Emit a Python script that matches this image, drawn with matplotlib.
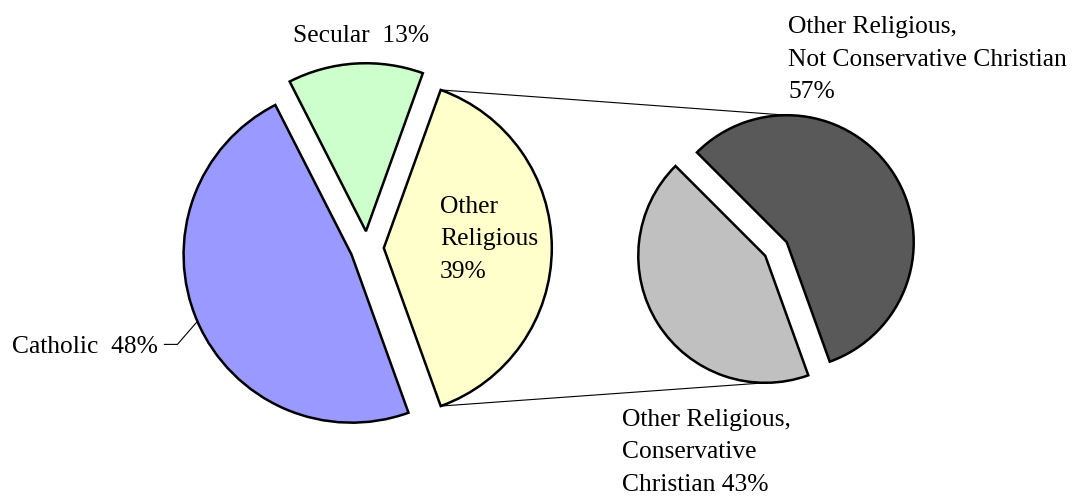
import math
import matplotlib
matplotlib.use("Agg")
import matplotlib.pyplot as plt

# main pie
main_labels = ["Catholic", "Secular", "Other Religious"]
main_values = [48, 13, 39]
main_colors = ["#9999FF", "#CCFFCC", "#FFFFCC"]

# breakdown of "Other Religious"
sub_labels = ["Conservative Christian", "Not Conservative Christian"]
sub_values = [43, 57]
sub_colors = ["#C0C0C0", "#595959"]

W, H = 1084, 496
plt.rcParams['font.family'] = ['Liberation Serif', 'DejaVu Serif']
FS = 18.4
LINE = 32.5


def py(y):
    # pixel row -> data y (y axis points up)
    return H - y


fig = plt.figure(figsize=(W / 100, H / 100), dpi=100)
ax = fig.add_axes([0, 0, 1, 1])

r1, c1 = 168, (367, py(248))
r2, c2 = 127, (776, py(249))
start = -main_values[2] / sum(main_values) * 180
edge = dict(edgecolor='black', linewidth=1.8)

w1, _ = ax.pie(main_values, colors=main_colors, radius=r1, center=c1,
               startangle=start, counterclock=False,
               explode=[0.1 * r1] * len(main_values), wedgeprops=edge, frame=True)
w2, _ = ax.pie(sub_values, colors=sub_colors, radius=r2, center=c2,
               startangle=start, counterclock=False,
               explode=[0.1 * r2] * len(sub_values), wedgeprops=edge, frame=True)

# connector lines from the "Other Religious" slice to the second pie
other = w1[2]
ox, oy = other.center
top = (ox + r1 * math.cos(math.radians(other.theta2)), oy + r1 * math.sin(math.radians(other.theta2)))
bot = (ox + r1 * math.cos(math.radians(other.theta1)), oy + r1 * math.sin(math.radians(other.theta1)))
dark, light = w2[1], w2[0]
ax.plot([top[0], dark.center[0]], [top[1], dark.center[1] + r2], color='black', lw=0.8, zorder=0)
ax.plot([bot[0], light.center[0]], [bot[1], light.center[1] - r2], color='black', lw=0.8, zorder=0)

# leader line for Catholic
cath = w1[0]
tm = math.radians((cath.theta1 + cath.theta2) / 2)
px = cath.center[0] + r1 * math.cos(tm)
py_ = cath.center[1] + r1 * math.sin(tm)
ax.plot([px, px - 20, px - 33], [py_, py_ - 23, py_ - 23], color='black', lw=0.8)


def label(x, y, lines):
    for i, s in enumerate(lines):
        ax.text(x, py(y + i * LINE), s, fontsize=FS, ha='left', va='baseline')


label(12, 353, [f"{main_labels[0]}  {main_values[0]}%"])
label(292.7, 42, [f"{main_labels[1]}  {main_values[1]}%"])
label(440, 213, ["Other", "Religious", f"{main_values[2]}%"])
label(788, 33, ["Other Religious,", sub_labels[1], f"{sub_values[1]}%"])
label(622, 425.7, ["Other Religious,", "Conservative", f"Christian {sub_values[0]}%"])

ax.set_xlim(0, W)
ax.set_ylim(0, H)
ax.set_aspect('equal')
ax.axis('off')

fig.savefig("out.png", dpi=100)
